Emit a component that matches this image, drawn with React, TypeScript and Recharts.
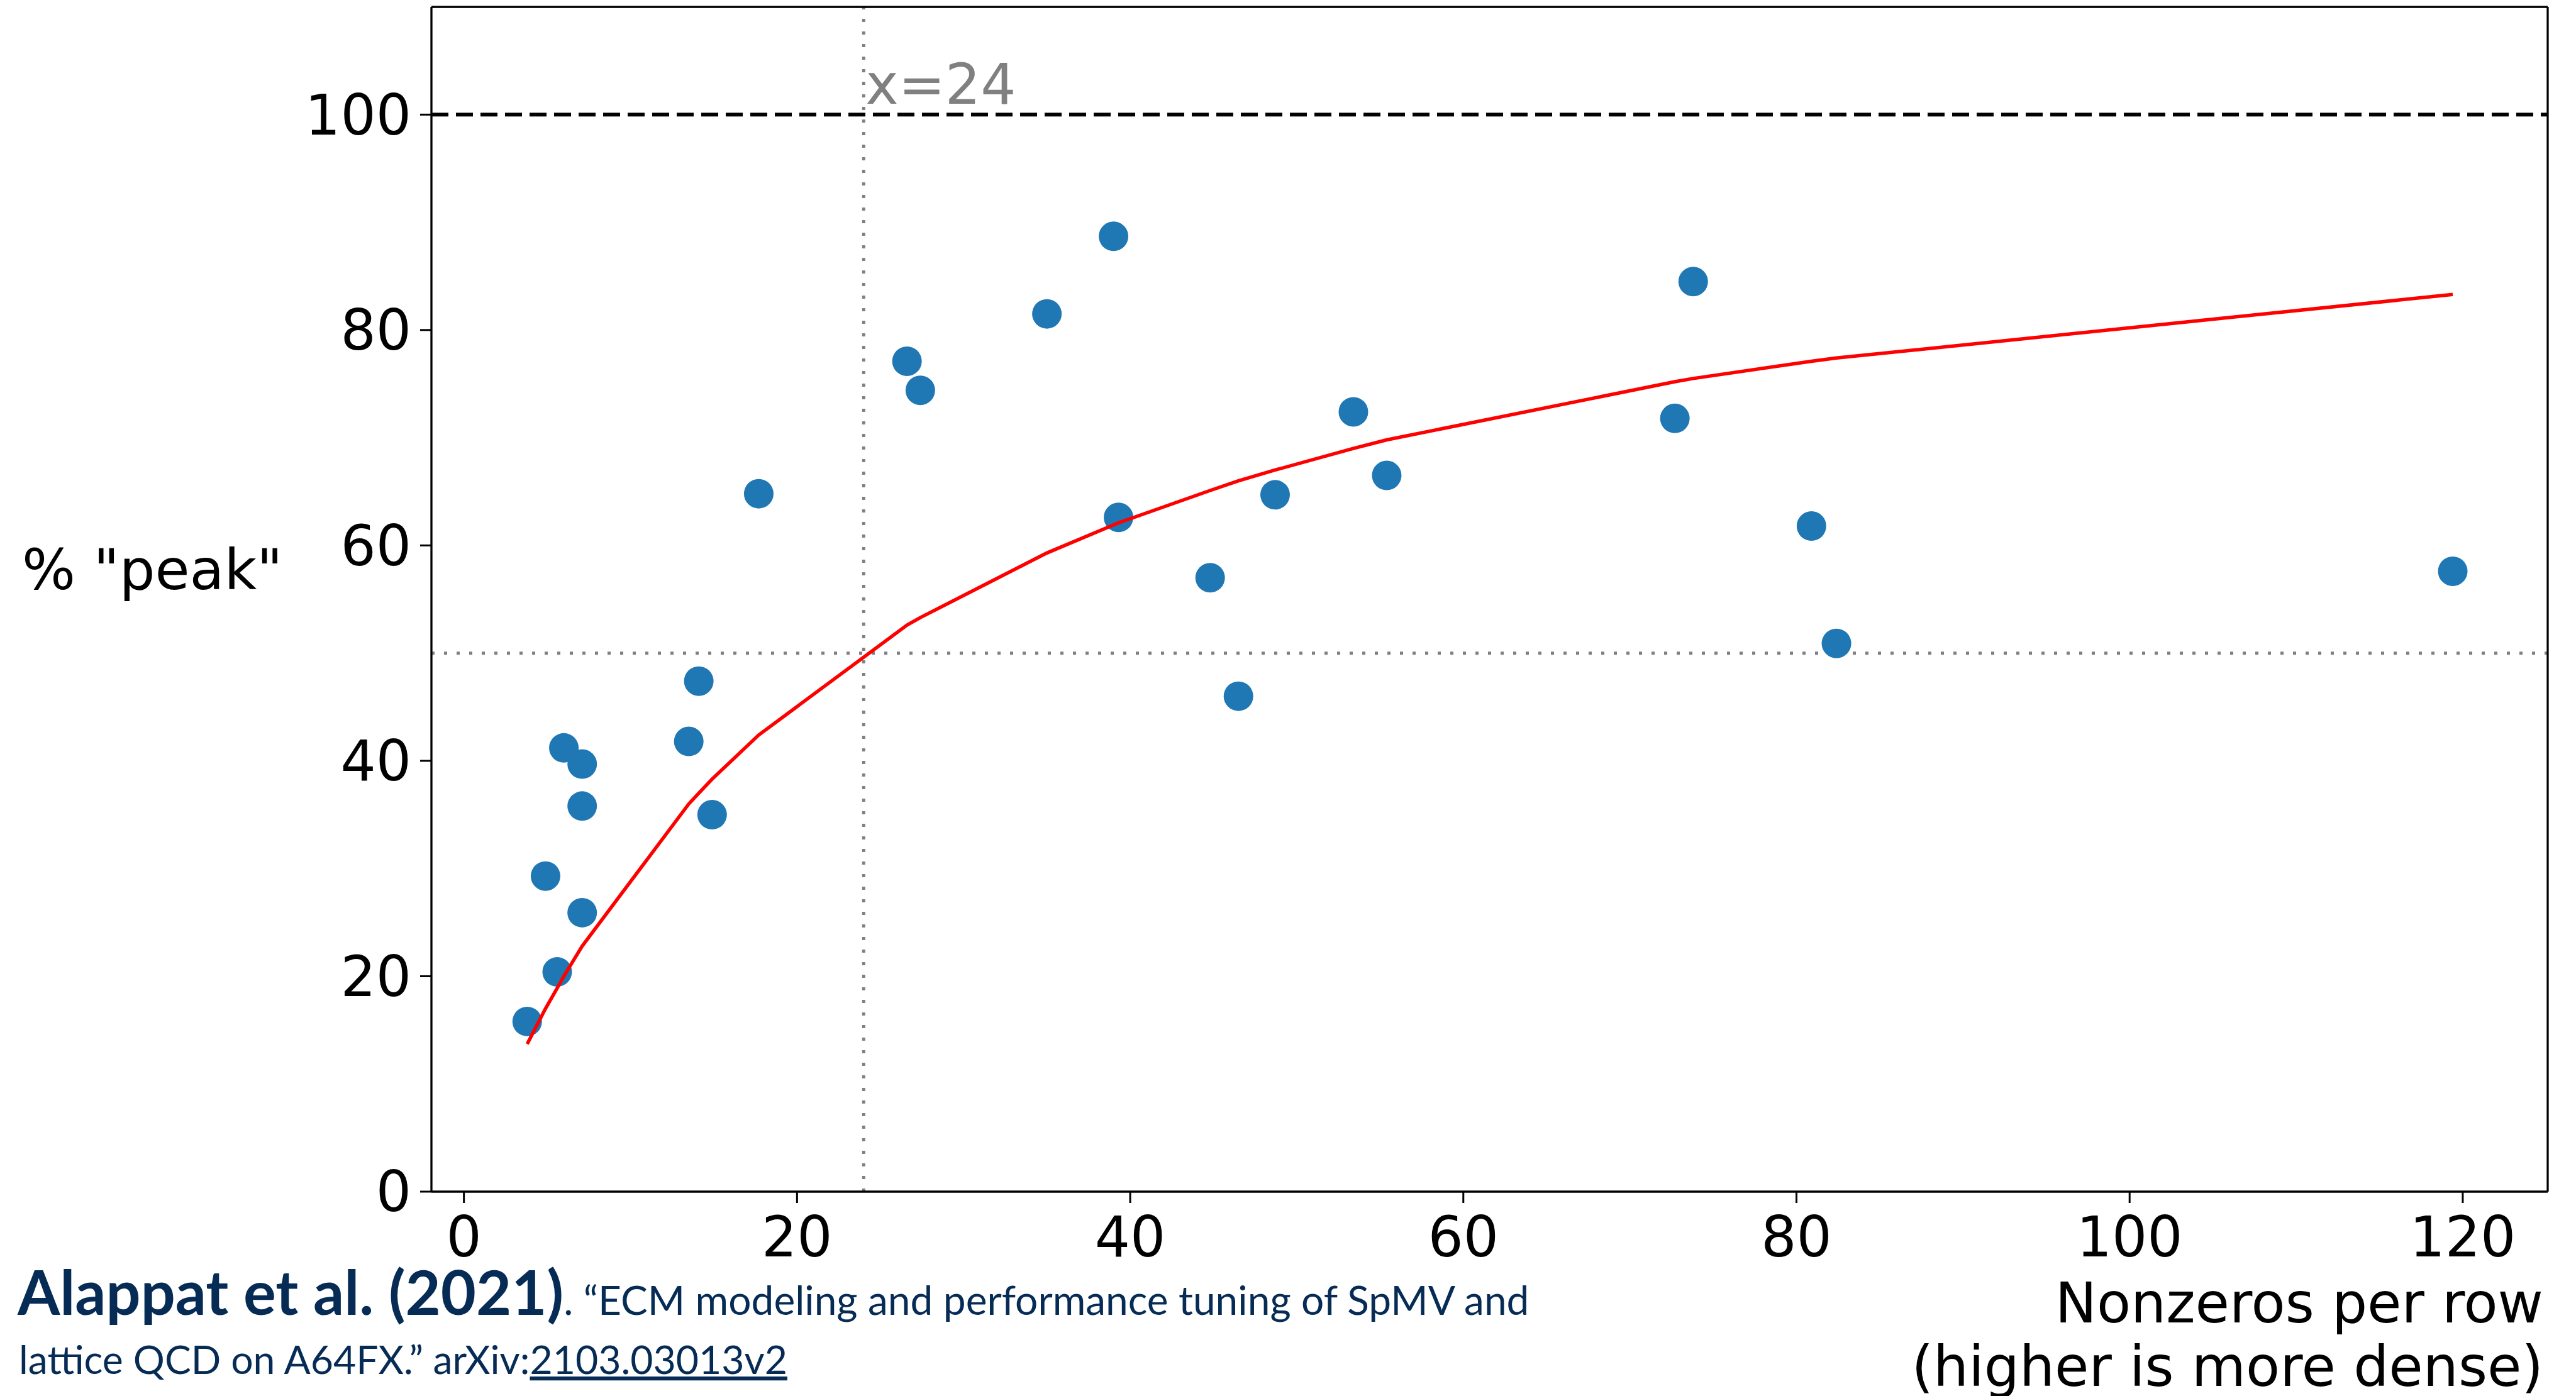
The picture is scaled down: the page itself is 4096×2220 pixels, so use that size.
import React from 'react';
import {
  ScatterChart,
  Scatter,
  XAxis,
  YAxis,
  ReferenceLine,
} from 'recharts';

// measured points (nonzeros per row, % of peak)
const pointX = [3.8, 5.6, 4.9, 6.0, 7.1, 7.1, 7.1, 13.5, 14.1, 14.9, 17.7, 26.6, 27.4, 35.0, 39.0, 39.3, 44.8, 46.5, 48.7, 53.4, 55.4, 73.8, 72.7, 80.9, 82.4, 119.4];
const pointY = [15.8, 20.4, 29.3, 41.2, 39.7, 35.8, 25.9, 41.8, 47.4, 35.0, 64.8, 77.1, 74.4, 81.5, 88.7, 62.6, 57.0, 46.0, 64.7, 72.4, 66.5, 84.5, 71.8, 61.8, 50.9, 57.6];

// red model curve at the sorted x positions
const modelX = [3.8, 4.9, 5.6, 6.0, 7.1, 13.5, 14.1, 14.9, 17.7, 26.6, 27.4, 35.0, 39.0, 39.3, 44.8, 46.5, 48.7, 53.4, 55.4, 72.7, 73.8, 80.9, 82.4, 119.4];
const modelY = [13.7, 17.0, 18.9, 20.0, 22.8, 36.0, 37.0, 38.3, 42.4, 52.6, 53.3, 59.3, 61.9, 62.1, 65.1, 66.0, 67.0, 69.0, 69.8, 75.2, 75.5, 77.1, 77.4, 83.3];

const xTicks = [0, 20, 40, 60, 80, 100, 120];
const yTicks = [0, 20, 40, 60, 80, 100];
const X_MIN = -1.95;
const X_MAX = 125.1;
const Y_MAX = 110;
const PEAK = 100;
const HALF = 50;
const CUTOFF = 24;

const points = pointX.map((x, i) => ({ x, y: pointY[i] }));
const model = modelX.map((x, i) => ({ x, y: modelY[i] }));

const MPL_FONT = 'DejaVu Sans';
const NAVY = '#062b55';

const Dot = (props: any) => (
  <circle cx={props.cx} cy={props.cy} r={23.5} fill="#1f77b4" />
);

const NoDot = () => <g />;

const CutoffLabel = (props: any) => {
  const vb = props.viewBox || { x: 0, y: 0 };
  return (
    <text x={vb.x + 3} y={vb.y + 154} fontSize={88.5} fontFamily={MPL_FONT} fill="#808080">
      x=24
    </text>
  );
};

export default function App() {
  return (
    <div style={{ position: 'absolute', left: 0, top: 0, width: 4096, height: 2220, background: '#fff' }}>
      <ScatterChart
        width={4096}
        height={2220}
        margin={{ top: 11, right: 45, left: 536, bottom: 205 }}
      >
        <XAxis
          type="number"
          dataKey="x"
          domain={[X_MIN, X_MAX]}
          ticks={xTicks}
          allowDataOverflow
          height={120}
          tickSize={18}
          tickMargin={22}
          axisLine={{ stroke: '#000', strokeWidth: 3.3 }}
          tickLine={{ stroke: '#000', strokeWidth: 3 }}
          tick={{ fontSize: 88.5, fill: '#000', fontFamily: MPL_FONT }}
        />
        <YAxis
          type="number"
          dataKey="y"
          domain={[0, Y_MAX]}
          ticks={yTicks}
          allowDataOverflow
          width={150}
          tickSize={18}
          tickMargin={14}
          axisLine={{ stroke: '#000', strokeWidth: 3.3 }}
          tickLine={{ stroke: '#000', strokeWidth: 3 }}
          tick={{ fontSize: 88.5, fill: '#000', fontFamily: MPL_FONT }}
        />
        <Scatter data={points} shape={Dot} isAnimationActive={false} />
        <Scatter
          data={model}
          shape={NoDot}
          line={{ stroke: '#ff0000', strokeWidth: 5.5 }}
          lineType="joint"
          isAnimationActive={false}
        />
        <ReferenceLine y={PEAK} stroke="#000" strokeWidth={6} strokeDasharray="27 12" />
        <ReferenceLine y={HALF} stroke="#808080" strokeWidth={5} strokeDasharray="5 15" />
        <ReferenceLine
          x={CUTOFF}
          stroke="#808080"
          strokeWidth={5}
          strokeDasharray="5 15"
          label={<CutoffLabel />}
        />
        <ReferenceLine y={Y_MAX} stroke="#000" strokeWidth={3.3} />
        <ReferenceLine x={X_MAX} stroke="#000" strokeWidth={3.3} />
      </ScatterChart>

      <svg
        width={4096}
        height={2220}
        style={{ position: 'absolute', left: 0, top: 0, pointerEvents: 'none' }}
      >
        <text x={35} y={937} fontSize={89.5} fontFamily={MPL_FONT} fill="#000">
          % "peak"
        </text>
        <text x={4044} y={2103} fontSize={88.5} fontFamily={MPL_FONT} fill="#000" textAnchor="end">
          Nonzeros per row
        </text>
        <text x={4044} y={2204} fontSize={88.5} fontFamily={MPL_FONT} fill="#000" textAnchor="end">
          (higher is more dense)
        </text>

        {/* source line */}
        <text x={28} y={2091} fontFamily="Lato" fill={NAVY}>
          <tspan fontSize={97} fontWeight={700}>Alappat et al. (2021)</tspan>
          <tspan fontSize={64}>. “ECM modeling and performance tuning of SpMV and</tspan>
        </text>
        <text x={30} y={2185} fontFamily="Lato" fill={NAVY} fontSize={62.5}>
          <tspan>lattice QCD on A64FX.” arXiv:</tspan>
          <tspan textDecoration="underline">2103.03013v2</tspan>
        </text>
      </svg>
    </div>
  );
}
